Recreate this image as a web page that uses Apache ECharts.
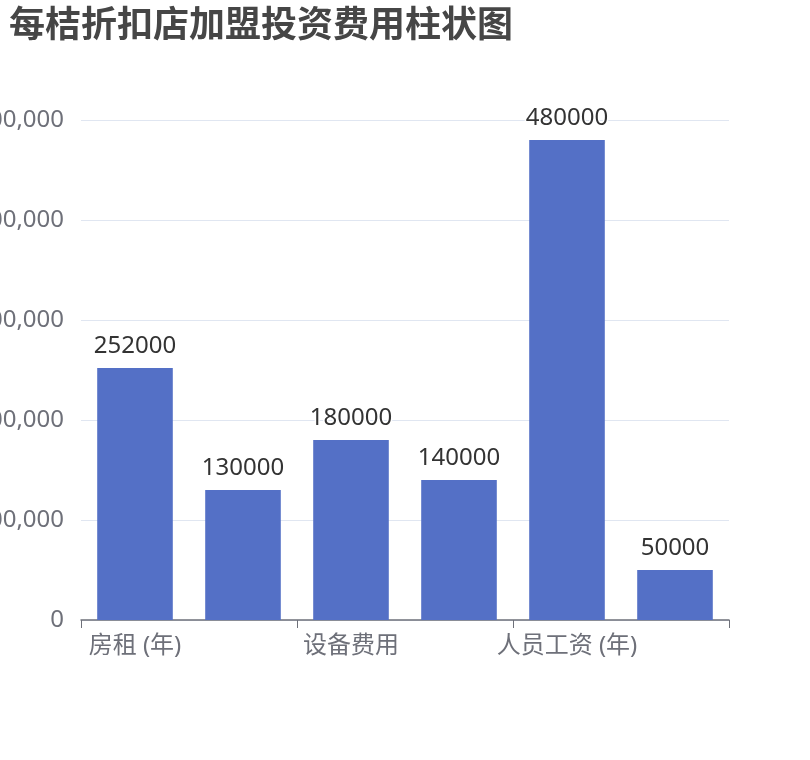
<!DOCTYPE html>
<html>
<head>
<meta charset="utf-8">
<script src="https://cdn.jsdelivr.net/npm/echarts@6/dist/echarts.min.js"></script>
<style>
html, body { margin: 0; padding: 0; background: #fff; }
#main { width: 810px; height: 760px; }
</style>
</head>
<body>
<div id="main"></div>
<script>
// 费用项目与金额
var categories = ['房租 (年)', '装修费用', '设备费用', '首批货品', '人员工资 (年)', '加盟费'];
var costValues = [252000, 130000, 180000, 140000, 480000, 50000];

var chart = echarts.init(document.getElementById('main'));
var font = 'Noto Sans, Noto Sans CJK SC, sans-serif';

var option = {
    textStyle: { fontFamily: font },
    title: {
        text: '每桔折扣店加盟投资费用柱状图',
        left: 4,
        top: 4,
        textStyle: {
            fontSize: 36,
            fontWeight: 'bold',
            color: '#464646',
            fontFamily: font
        }
    },
    grid: {
        left: 81,
        right: 81,
        top: 120,
        bottom: 140,
        outerBoundsMode: 'none'
    },
    xAxis: {
        type: 'category',
        data: categories,
        axisLabel: {
            interval: 1,
            fontSize: 24,
            color: '#6E7079',
            margin: 14
        },
        axisTick: { show: true, length: 8, lineStyle: { color: '#6E7079' } },
        axisLine: { lineStyle: { color: '#6E7079', width: 1.5 } }
    },
    yAxis: {
        type: 'value',
        min: 0,
        max: 500000,
        interval: 100000,
        axisLabel: {
            fontSize: 24,
            color: '#6E7079',
            margin: 17,
            formatter: function (v) {
                return v.toLocaleString('en-US');
            }
        },
        splitLine: { lineStyle: { color: '#E0E6F1' } }
    },
    series: [
        {
            type: 'bar',
            data: costValues,
            barWidth: '70%',
            itemStyle: { color: '#5470c6' },
            label: {
                show: true,
                position: 'top',
                distance: 10,
                fontSize: 24,
                color: '#333',
                textBorderColor: '#fff',
                textBorderWidth: 3
            }
        }
    ]
};

chart.setOption(option);
</script>
</body>
</html>
